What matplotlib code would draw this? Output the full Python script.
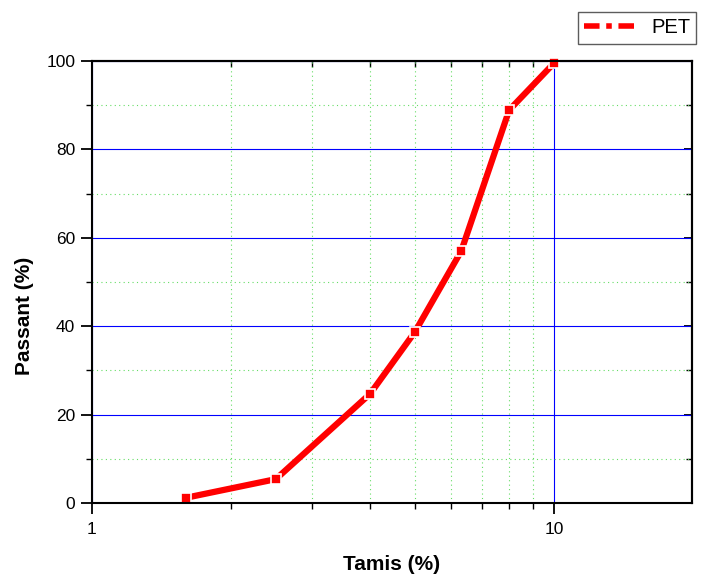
import matplotlib
matplotlib.use("Agg")
import matplotlib.pyplot as plt
from matplotlib.lines import Line2D
from matplotlib.ticker import FixedLocator, NullFormatter, FixedFormatter

plt.rcParams['font.family'] = ['Liberation Sans', 'DejaVu Sans']

# Sieve sizes and cumulative passing percentages
tamis = [1.6, 2.5, 4.0, 5.0, 6.3, 8.0, 10.0]
passant = [1.2, 5.4, 24.7, 38.7, 57.0, 88.9, 99.5]
series_label = "PET"

x_major = [1, 10]
x_major_labels = ["1", "10"]
x_minor = [2, 3, 4, 5, 6, 7, 8, 9, 20]
y_major = [0, 20, 40, 60, 80, 100]
y_minor = [10, 30, 50, 70, 90]

fig = plt.figure(figsize=(7.02, 5.74), dpi=100)
ax = fig.add_axes([92/702, 1 - 503/574, 600/702, 442/574])

ax.set_xscale('log')
ax.set_xlim(1, 19.9)
ax.set_ylim(0, 100)

ax.xaxis.set_major_locator(FixedLocator(x_major))
ax.xaxis.set_major_formatter(FixedFormatter(x_major_labels))
ax.xaxis.set_minor_locator(FixedLocator(x_minor))
ax.xaxis.set_minor_formatter(NullFormatter())
ax.yaxis.set_major_locator(FixedLocator(y_major))
ax.yaxis.set_minor_locator(FixedLocator(y_minor))

# Grid: blue solid major lines, light green dotted minor lines
ax.grid(which='major', color='#0000ff', linewidth=0.8, linestyle='-')
ax.grid(which='minor', color='#66dd66', linewidth=0.8, linestyle=(0, (1, 3)))
ax.set_axisbelow(True)

ax.plot(tamis, passant, color='#ff0000', linewidth=4.5, solid_capstyle='butt',
        marker='s', markersize=7.5, markerfacecolor='#ff0000',
        markeredgecolor='white', markeredgewidth=1.2, zorder=5, clip_on=False)

for s in ax.spines.values():
    s.set_linewidth(1.5)
    s.set_zorder(6)

ax.tick_params(which='major', direction='out', length=8, width=1.3,
               labelsize=12.5, top=False, right=False, pad=4)
ax.tick_params(which='minor', direction='out', length=4, width=1.0,
               top=False, right=False)
ax.tick_params(axis='x', which='major', pad=6)

# Inward ticks on the top and right edges
ax_top = ax.secondary_xaxis('top')
ax_top.set_xticks(x_major)
ax_top.xaxis.set_minor_locator(FixedLocator(x_minor))
ax_top.tick_params(which='major', direction='in', length=6, width=1.3, labeltop=False)
ax_top.tick_params(which='minor', direction='in', length=4, width=1.0)
ax_top.spines['top'].set_linewidth(1.5)
ax_right = ax.secondary_yaxis('right')
ax_right.set_yticks(y_major)
ax_right.yaxis.set_minor_locator(FixedLocator(y_minor))
ax_right.tick_params(which='major', direction='in', length=6, width=1.3, labelright=False)
ax_right.tick_params(which='minor', direction='in', length=4, width=1.0)
ax_right.spines['right'].set_linewidth(1.5)

# Axis titles placed in figure coordinates
fig.text(392/702, 1 - 565/574, "Tamis (%)", fontsize=15, fontweight='bold',
         ha='center', va='center')
fig.text(25/702, 1 - 316/574, "Passant (%)", fontsize=15, fontweight='bold',
         ha='center', va='center', rotation=90)

handle = Line2D([], [], color='#ff0000', linewidth=4, linestyle=(0, (2.8, 1.2, 1, 1.2)))
leg = fig.legend([handle], [series_label], loc='upper left',
                 bbox_to_anchor=(578/702, 1 - 12/574), borderaxespad=0,
                 fontsize=14.5, frameon=True, fancybox=False, edgecolor='#333333',
                 handlelength=2.65, borderpad=0.32, handletextpad=0.65)
leg.get_frame().set_linewidth(1.0)

fig.savefig("out.png", dpi=100)
